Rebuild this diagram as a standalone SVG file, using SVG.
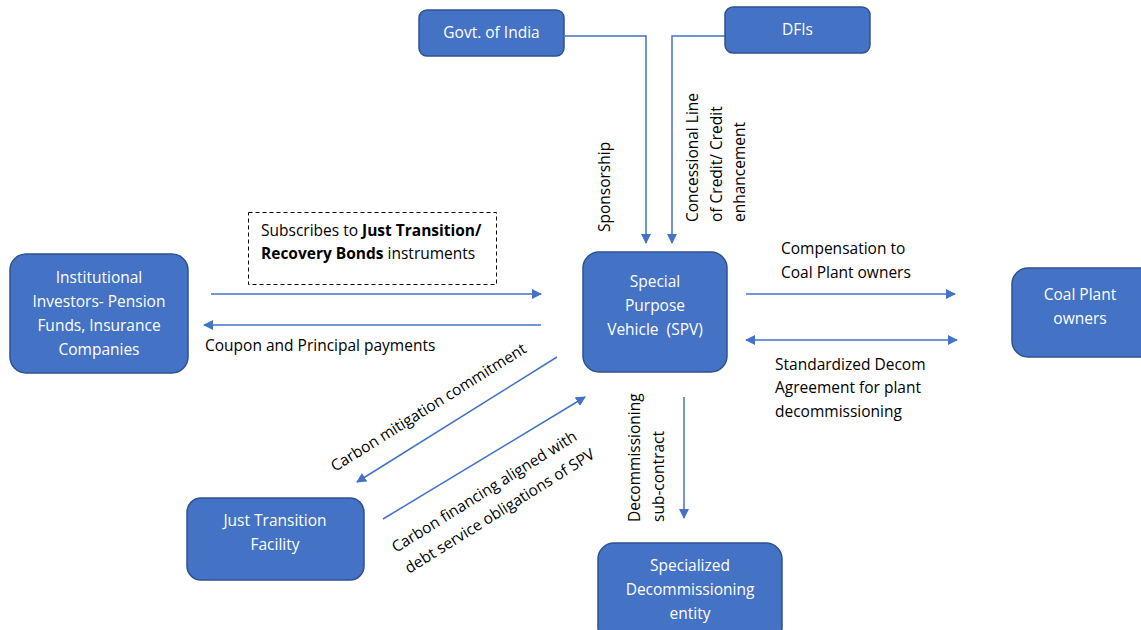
<svg xmlns="http://www.w3.org/2000/svg" width="1141" height="630" viewBox="0 0 1141 630">
<defs>
<style>
.box{fill:#4472C4;stroke:#2F528F;stroke-width:1.5}
.bt{fill:#fff;font-family:"Open Sans","Liberation Sans",sans-serif;font-size:15.5px;text-anchor:middle;white-space:pre}
.lt{fill:#000;font-family:"Open Sans","Liberation Sans",sans-serif;font-size:15.5px}
.ln{fill:none;stroke:#4472C4;stroke-width:1.5}
</style>
<marker id="ah" viewBox="0 0 10 10" refX="9" refY="5" markerWidth="10" markerHeight="10" markerUnits="userSpaceOnUse" orient="auto">
<path d="M0,0 L10,5 L0,10 z" fill="#4472C4"/>
</marker>
<marker id="as" viewBox="0 0 10 10" refX="1" refY="5" markerWidth="10" markerHeight="10" markerUnits="userSpaceOnUse" orient="auto">
<path d="M10,0 L0,5 L10,10 z" fill="#4472C4"/>
</marker>
</defs>
<rect width="1141" height="630" fill="#fff"/>

<g id="connectors">
<polyline class="ln" points="565,36 646,36 646,243" marker-end="url(#ah)"/>
<polyline class="ln" points="725,36 672,36 672,243" marker-end="url(#ah)"/>
<line class="ln" x1="211" y1="294" x2="541" y2="294" marker-end="url(#ah)"/>
<line class="ln" x1="541" y1="325" x2="204" y2="325" marker-end="url(#ah)"/>
<line class="ln" x1="746" y1="294" x2="955" y2="294" marker-end="url(#ah)"/>
<line class="ln" x1="746" y1="340" x2="957" y2="340" marker-start="url(#as)" marker-end="url(#ah)"/>
<line class="ln" x1="557" y1="357" x2="357" y2="482" marker-end="url(#ah)"/>
<line class="ln" x1="383" y1="519" x2="585" y2="397" marker-end="url(#ah)"/>
<line class="ln" x1="684" y1="397" x2="684" y2="518" marker-end="url(#ah)"/>

<text class="lt" transform="translate(610,232) rotate(-90)">Sponsorship</text>
<text class="lt" transform="translate(698,222) rotate(-90)">Concessional Line</text>
<text class="lt" transform="translate(722,222) rotate(-90)">of Credit/ Credit</text>
<text class="lt" transform="translate(745,222) rotate(-90)">enhancement</text>

<rect x="248.5" y="212.5" width="248" height="72" fill="none" stroke="#000" stroke-width="1" stroke-dasharray="4,3"/>
<text class="lt" x="261" y="236">Subscribes to <tspan font-weight="bold">Just Transition/</tspan></text>
<text class="lt" x="261" y="259"><tspan font-weight="bold">Recovery Bonds</tspan> instruments</text>
<text class="lt" x="205" y="351">Coupon and Principal payments</text>

<text class="lt" x="781" y="254">Compensation to</text>
<text class="lt" x="781" y="278">Coal Plant owners</text>
<text class="lt" x="775" y="370">Standardized Decom</text>
<text class="lt" x="775" y="393">Agreement for plant</text>
<text class="lt" x="775" y="417">decommissioning</text>

<text class="lt" transform="translate(335,472) rotate(-32)">Carbon mitigation commitment</text>
<text class="lt" transform="translate(396,553) rotate(-32)">Carbon financing aligned with</text>
<text class="lt" transform="translate(409,574) rotate(-32)">debt service obligations of SPV</text>

<text class="lt" transform="translate(640,522) rotate(-90)">Decommissioning</text>
<text class="lt" transform="translate(664,522) rotate(-90)">sub-contract</text>
</g>

<g id="govt">
<rect class="box" x="419" y="10" width="145" height="46" rx="8"/>
<text class="bt" x="491.5" y="38">Govt. of India</text>
</g>
<g id="dfis">
<rect class="box" x="725" y="7" width="145" height="46" rx="8"/>
<text class="bt" x="797.5" y="35">DFIs</text>
</g>
<g id="investors">
<rect class="box" x="10" y="254" width="178" height="119" rx="16"/>
<text class="bt" x="99" y="283">Institutional</text>
<text class="bt" x="99" y="307">Investors- Pension</text>
<text class="bt" x="99" y="331">Funds, Insurance</text>
<text class="bt" x="99" y="355">Companies</text>
</g>
<g id="spv">
<rect class="box" x="583" y="252" width="144" height="120" rx="16"/>
<text class="bt" x="655" y="287">Special</text>
<text class="bt" x="655" y="311">Purpose</text>
<text class="bt" x="655" y="335" xml:space="preserve">Vehicle  (SPV)</text>
</g>
<g id="coal">
<rect class="box" x="1012" y="268" width="145" height="89" rx="16"/>
<text class="bt" x="1080" y="300">Coal Plant</text>
<text class="bt" x="1080" y="324">owners</text>
</g>
<g id="jtf">
<rect class="box" x="187" y="498" width="177" height="82" rx="14"/>
<text class="bt" x="275" y="526">Just Transition</text>
<text class="bt" x="275" y="550">Facility</text>
</g>
<g id="decom">
<rect class="box" x="598" y="543" width="184" height="100" rx="16"/>
<text class="bt" x="690" y="571">Specialized</text>
<text class="bt" x="690" y="595">Decommissioning</text>
<text class="bt" x="690" y="619">entity</text>
</g>
</svg>
